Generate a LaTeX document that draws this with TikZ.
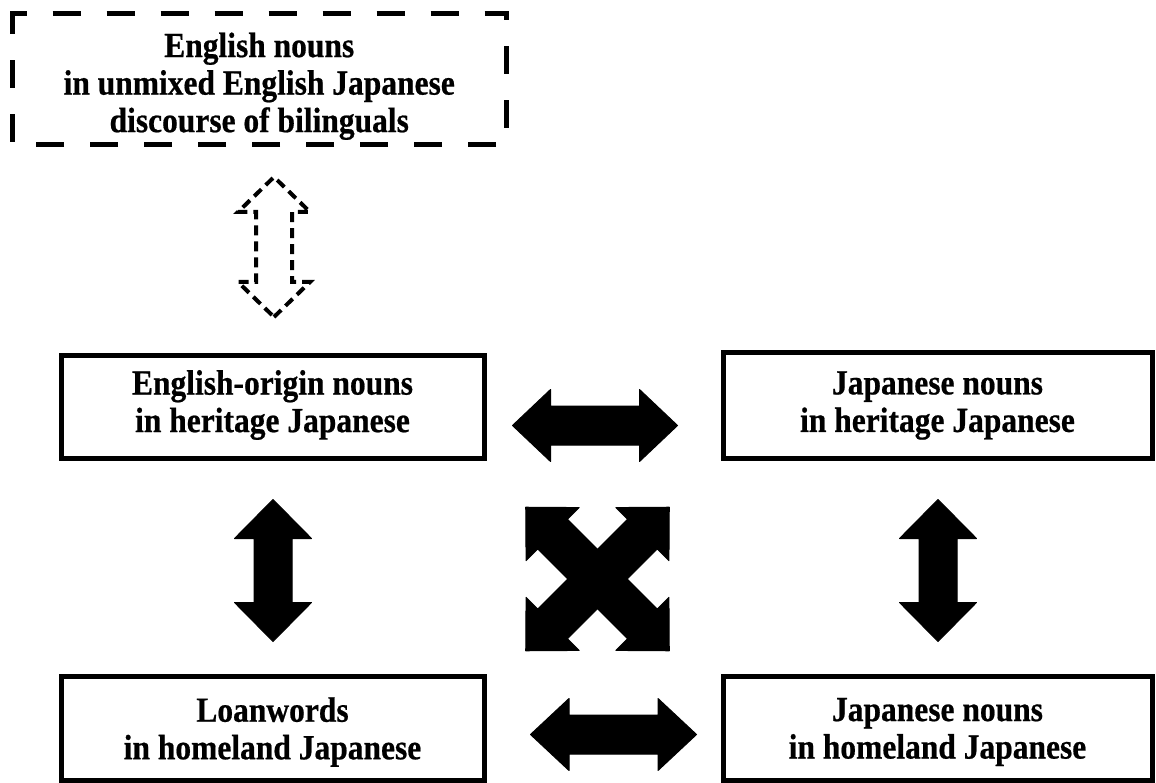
\documentclass[tikz,border=0pt]{standalone}
\usepackage{fontspec}
\setmainfont[BoldFeatures={FakeBold=0.6}]{Liberation Serif}
\newcommand{\dblarr}[7]{%
  \path[#1, shift={#2}, rotate=#3]
    (-#4,0) -- (-#4+#5,#6) -- (-#4+#5,#7) -- (#4-#5,#7) -- (#4-#5,#6) -- (#4,0)
    -- (#4-#5,-#6) -- (#4-#5,-#7) -- (-#4+#5,-#7) -- (-#4+#5,-#6) -- cycle;}
\begin{document}
\begin{tikzpicture}[x=1pt,y=-1pt,
  lbl/.style={rectangle, inner sep=0pt, outer sep=0pt, align=center, yscale=1.12, transform shape,
    font=\bfseries\fontsize{31.5}{33.5}\selectfont},
  box/.style={rectangle, inner sep=0pt, outer sep=0pt, draw, line width=5pt},
  dashbox/.style={line width=5pt, dash pattern=on 28pt off 26pt},
  solidarrow/.style={fill=black, draw=black, line width=1pt, line join=round},
  dasharrow/.style={draw=black, line width=4pt, dash pattern=on 10pt off 6pt}]
\useasboundingbox (0,0) rectangle (1156,783);
\fill[white] (0,0) rectangle (1156,783);

% boxes
\node[rectangle, inner sep=0pt, outer sep=0pt, minimum width=493.5pt, minimum height=130.5pt] (en) at (259.25,79.25) {};
\draw[dashbox] ([yshift=-14pt]en.north west) -- (en.north west) -- (en.north east)
  -- (en.south east) -- (en.south west) -- cycle;
\node[lbl] (ent) at ([yshift=-7pt]en.center)
  {English nouns\\in unmixed English Japanese\\discourse of bilinguals};

\node[box, minimum width=423pt, minimum height=102pt] (eo) at (272.5,407) {};
\node[lbl] (eot) at ([yshift=2pt]eo.center) {English-origin nouns\\in heritage Japanese};
\node[box, minimum width=429pt, minimum height=105pt] (jh) at (937.5,405.5) {};
\node[lbl] (jht) at (jh.center) {Japanese nouns\\in heritage Japanese};
\node[box, minimum width=423pt, minimum height=104pt] (lw) at (272.5,728) {};
\node[lbl] (lwt) at ([yshift=-4pt]lw.center) {Loanwords\\in homeland Japanese};
\node[box, minimum width=429pt, minimum height=104pt] (jn) at (937.5,728) {};
\node[lbl] (jnt) at ([yshift=-4pt]jn.center) {Japanese nouns\\in homeland Japanese};

% arrows
\dblarr{dasharrow}{(274,247)}{90}{70}{35}{36}{18}
\dblarr{solidarrow}{(595,425.5)}{0}{82.5}{38}{36}{19.5}
\dblarr{solidarrow}{(613.5,734.5)}{0}{83}{38.5}{36}{19.5}
\dblarr{solidarrow}{(273,570.5)}{90}{71}{39}{38.5}{19}
\dblarr{solidarrow}{(938,570.5)}{90}{71}{39}{38.5}{19}
\dblarr{solidarrow}{(597.5,579)}{45}{101.5}{38}{37.5}{21}
\dblarr{solidarrow}{(597.5,579)}{-45}{101.5}{38}{37.5}{21}
\end{tikzpicture}
\end{document}
